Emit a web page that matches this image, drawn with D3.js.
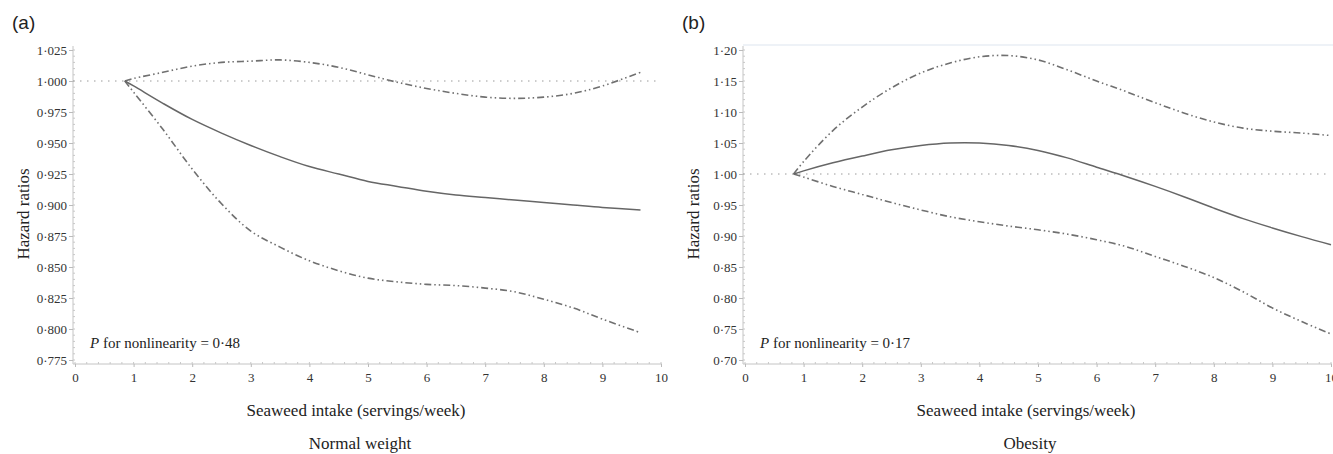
<!DOCTYPE html>
<html>
<head>
<meta charset="utf-8">
<script src="https://cdn.jsdelivr.net/npm/d3@7"></script>
<style>
body{margin:0;background:#fff;}
svg{display:block;}
.tk text{font-family:"Liberation Serif","Times New Roman",serif;font-size:13px;fill:#333;}
.ttl{font-family:"Liberation Serif","Times New Roman",serif;font-size:17px;fill:#222;}
.pnl{font-family:"Liberation Sans",Arial,sans-serif;font-size:19px;fill:#222;}
.pv{font-family:"Liberation Serif","Times New Roman",serif;font-size:15px;fill:#222;}
</style>
</head>
<body>
<svg id="svg" width="1333" height="454"></svg>
<script>
// panel (a) normal weight
var xA=[0.85,1,1.5,2,2.5,3,3.5,4,4.5,5,5.5,6,6.5,7,7.5,8,8.5,9,9.65];
var hrA=[1.000,0.996,0.982,0.969,0.958,0.948,0.939,0.931,0.925,0.919,0.915,0.911,0.908,0.906,0.904,0.902,0.900,0.898,0.896];
var upA=[1.000,1.002,1.007,1.012,1.015,1.016,1.017,1.015,1.011,1.005,0.999,0.994,0.990,0.987,0.986,0.987,0.990,0.996,1.007];
var loA=[1.000,0.991,0.961,0.929,0.901,0.879,0.866,0.855,0.847,0.841,0.838,0.836,0.835,0.833,0.830,0.824,0.817,0.808,0.797];
var yTicksA=[0.775,0.800,0.825,0.850,0.875,0.900,0.925,0.950,0.975,1.000,1.025];

// panel (b) obesity
var xB=[0.83,1,1.5,2,2.5,3,3.5,4,4.5,5,5.5,6,6.5,7,7.5,8,8.5,9,9.5,10];
var hrB=[1.000,1.005,1.018,1.029,1.039,1.046,1.050,1.050,1.046,1.038,1.026,1.011,0.996,0.980,0.963,0.945,0.928,0.913,0.899,0.886];
var upB=[1.000,1.020,1.070,1.108,1.139,1.163,1.179,1.189,1.191,1.184,1.168,1.150,1.133,1.115,1.098,1.084,1.074,1.069,1.066,1.062];
var loB=[1.000,0.995,0.980,0.967,0.954,0.942,0.931,0.923,0.916,0.910,0.903,0.894,0.883,0.867,0.851,0.833,0.810,0.784,0.762,0.742];
var yTicksB=[0.70,0.75,0.80,0.85,0.90,0.95,1.00,1.05,1.10,1.15,1.20];

var xTicks=[0,1,2,3,4,5,6,7,8,9,10];

var svg=d3.select("#svg");

function panel(o){
    var x=d3.scaleLinear().domain([0,10]).range([o.left,o.left+586]);
    var y=d3.scaleLinear().domain(d3.extent(o.yTicks)).range([360,50]);
    var g=svg.append("g");
    var ax=o.left-2;

    if(o.frame)
        g.append("line").attr("x1",ax).attr("x2",1333).attr("y1",45).attr("y2",45)
            .attr("stroke","#eef2f7").attr("stroke-width",2);

    // y axis
    g.append("line").attr("x1",ax).attr("x2",ax).attr("y1",46).attr("y2",364)
        .attr("stroke","#c4c4c4");
    var step=(o.yTicks[1]-o.yTicks[0])/5;
    var minorY=d3.range(o.yTicks[0],o.yTicks[o.yTicks.length-1]+step/2,step);
    g.selectAll(".my").data(minorY).enter().append("line")
        .attr("x1",ax).attr("x2",ax+2).attr("y1",d=>y(d)).attr("y2",d=>y(d))
        .attr("stroke","#c8c8c8");
    var ya=g.append("g").attr("class","tk").attr("transform","translate("+ax+",0)")
        .call(d3.axisLeft(y).tickValues(o.yTicks).tickSize(4).tickSizeOuter(0)
            .tickFormat(d=>d3.format(o.fmt)(d).replace(".","·")));
    ya.select(".domain").remove();
    ya.selectAll(".tick line").attr("stroke","#bbb");
    ya.selectAll(".tick text").attr("x",-6);

    // x axis
    g.append("line").attr("x1",ax).attr("x2",Math.min(x(10)+1,1333)).attr("y1",364).attr("y2",364)
        .attr("stroke","#c4c4c4");
    g.selectAll(".mx").data(d3.range(0,10.01,0.2)).enter().append("line")
        .attr("x1",d=>x(d)).attr("x2",d=>x(d)).attr("y1",362).attr("y2",364)
        .attr("stroke","#c8c8c8");
    var xa=g.append("g").attr("class","tk").attr("transform","translate(0,364)")
        .call(d3.axisBottom(x).tickValues(xTicks).tickSize(3).tickSizeOuter(0).tickFormat(d3.format("d")));
    xa.select(".domain").remove();
    xa.selectAll(".tick line").attr("stroke","#bbb");
    xa.selectAll(".tick text").attr("y",9);

    // reference line at 1
    g.append("line").attr("x1",ax).attr("x2",Math.min(x(10),1333)).attr("y1",y(1)).attr("y2",y(1))
        .attr("stroke","#9a9a9a").attr("stroke-width",1).attr("stroke-dasharray","1.5,5.5");

    var line=d3.line().x(d=>x(d[0])).y(d=>y(d[1])).curve(d3.curveCatmullRom.alpha(0.5));
    [[o.up,"7,3,1.5,3,1.5,3"],[o.lo,"7,3,1.5,3,1.5,3"],[o.hr,null]].forEach(s=>{
        g.append("path").datum(o.xs.map((v,i)=>[v,s[0][i]]))
            .attr("d",line).attr("fill","none")
            .attr("stroke",s[1]?"#707070":"#666").attr("stroke-width",s[1]?1.6:1.5)
            .attr("stroke-dasharray",s[1]);
    });

    // texts
    g.append("text").attr("class","pnl").attr("x",o.left-63).attr("y",29).text(o.tag);
    g.append("text").attr("class","ttl").attr("text-anchor","middle")
        .attr("transform","translate("+(o.left-46)+",214) rotate(-90)").text("Hazard ratios");
    var cx=(x(0)+x(10))/2-12;
    g.append("text").attr("class","ttl").attr("text-anchor","middle").attr("x",cx).attr("y",416)
        .text("Seaweed intake (servings/week)");
    g.append("text").attr("class","ttl").attr("text-anchor","middle").attr("x",cx+4).attr("y",449)
        .text(o.group);
    var p=g.append("text").attr("class","pv").attr("x",o.left+15).attr("y",348);
    p.append("tspan").attr("font-style","italic").text("P");
    p.append("tspan").text(" for nonlinearity = "+o.p);
}

panel({left:75,yTicks:yTicksA,fmt:".3f",xs:xA,hr:hrA,up:upA,lo:loA,tag:"(a)",group:"Normal weight",p:"0·48"});
panel({left:745,yTicks:yTicksB,fmt:".2f",xs:xB,hr:hrB,up:upB,lo:loB,tag:"(b)",group:"Obesity",p:"0·17",frame:true});
</script>
</body>
</html>
